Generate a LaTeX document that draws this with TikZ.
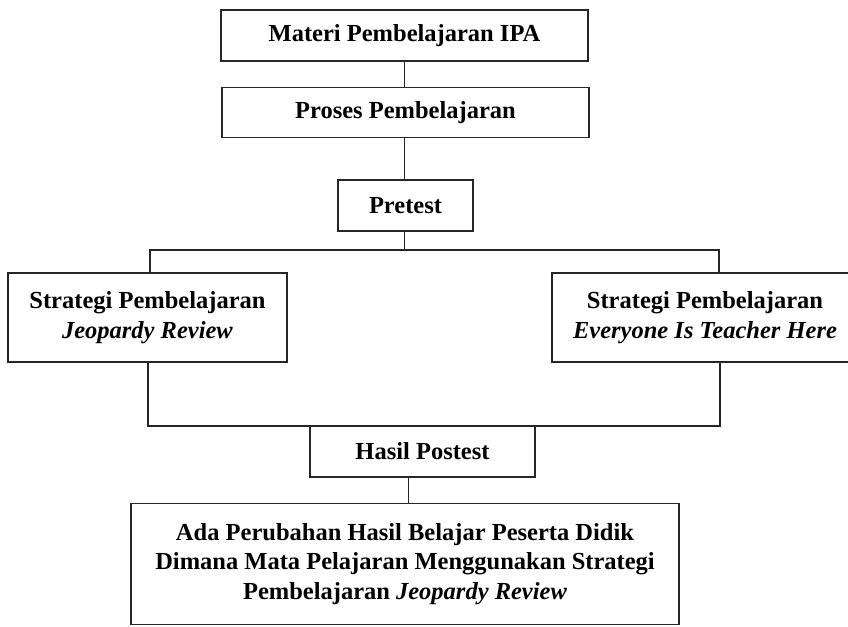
\documentclass[tikz,border=0pt]{standalone}
\usepackage{fontspec}
\setmainfont{Liberation Serif}
\begin{document}
\begin{tikzpicture}[x=1pt,y=-1pt,
  every node/.style={font=\fontsize{24.5}{29.5}\selectfont\bfseries},
  boxnode/.style={draw=black!85,line width=1.4pt,rectangle,inner sep=0pt,align=center},
  conn/.style={draw=black!85,line width=1.4pt}]
\useasboundingbox (0,0) rectangle (848,626);
\node[boxnode,minimum width=367pt,minimum height=51pt] (m1) at (404.5,35.5) {Materi Pembelajaran IPA};
\node[boxnode,minimum width=367pt,minimum height=50pt] (m2) at (405.5,112.5) {Proses Pembelajaran};
\node[boxnode,minimum width=135pt,minimum height=51pt] (pre) at (405.5,205.5) {Pretest};
\node[boxnode,minimum width=279pt,minimum height=89pt] (jr) at (147.5,317.5) {Strategi Pembelajaran\\\textit{Jeopardy Review}};
\node[boxnode,minimum width=306pt,minimum height=89pt] (eth) at (705,317.5) {Strategi Pembelajaran\\\textit{Everyone Is Teacher Here}};
\node[boxnode,minimum width=225pt,minimum height=51pt] (hp) at (422.5,451.5) {Hasil Postest};
\node[boxnode,minimum width=548pt,minimum height=121pt] (fin) at (405,564) {Ada Perubahan Hasil Belajar Peserta Didik\\Dimana Mata Pelajaran Menggunakan Strategi\\Pembelajaran \textit{Jeopardy Review}};
\coordinate (split) at (404.5,250);
\coordinate (splitL) at (150,250);
\coordinate (splitR) at (719,250);
\coordinate (joinL) at (148,426);
\coordinate (joinR) at (720,426);
\draw[conn] (m1.south -| split) -- (m2.north -| split);
\draw[conn] (m2.south -| split) -- (pre.north -| split);
\draw[conn] (pre.south -| split) -- (split);
\draw[conn] (jr.north -| splitL) -- (splitL) -- (splitR) -- (eth.north -| splitR);
\draw[conn] (jr.south -| joinL) -- (joinL) -- (joinR) -- (eth.south -| joinR);
\draw[conn] (hp.south -| 408.5,0) -- (fin.north -| 408.5,0);
\end{tikzpicture}
\end{document}
